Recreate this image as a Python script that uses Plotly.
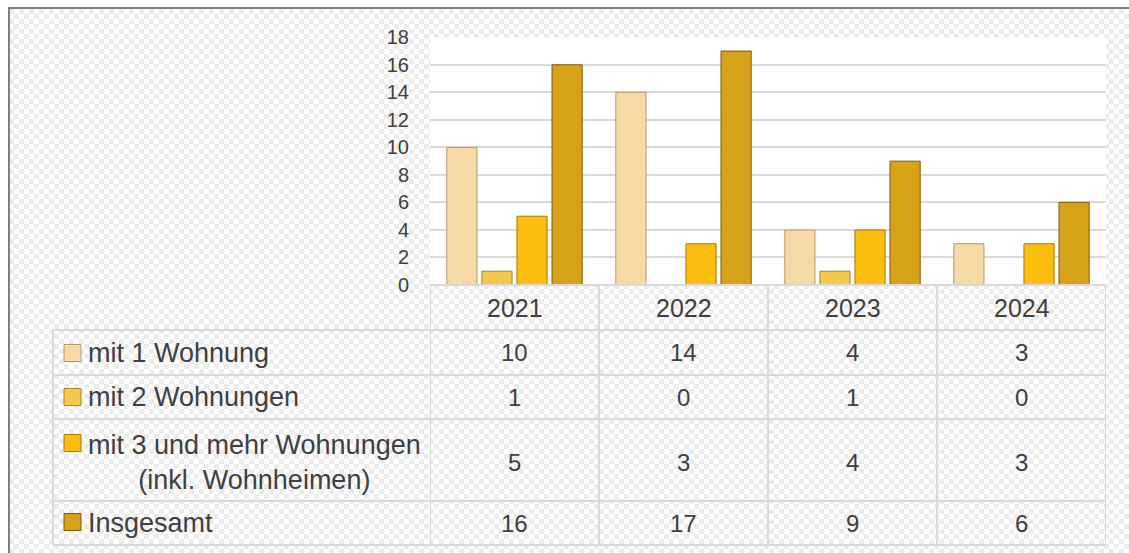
import base64
import plotly.graph_objects as go

# ---------------- data ----------------
years = ["2021", "2022", "2023", "2024"]
series_names = [
    "mit 1 Wohnung",
    "mit 2 Wohnungen",
    "mit 3 und mehr Wohnungen<br>(inkl. Wohnheimen)",
    "Insgesamt",
]
mit_1_wohnung = [10, 14, 4, 3]
mit_2_wohnungen = [1, 0, 1, 0]
mit_3_und_mehr = [5, 3, 4, 3]
insgesamt = [16, 17, 9, 6]
y_tick_values = [0, 2, 4, 6, 8, 10, 12, 14, 16, 18]

series_values = [mit_1_wohnung, mit_2_wohnungen, mit_3_und_mehr, insgesamt]

# ---------------- styling ----------------
W, H = 1129, 553
colors = ["#f7d9a6", "#f5c84c", "#fcbe0e", "#d7a118"]
outlines = ["#b99a66", "#a8852e", "#a27b0a", "#7d5c0a"]
text_color = "#404040"
line_color = "#d9d9d9"
font_family = "Liberation Sans, Arial, sans-serif"


def fx(px):
    return px / W


def fy(py):
    return 1 - py / H


plot_left, plot_right = 430, 1106
plot_top, plot_bottom = 37.3, 285
row_lines = [330, 375, 419, 501, 545]
header_center = 307.5
row_text_centers = [352.5, 397, 462, 523]
key_centers = [353, 397, 443, 522]
legend_left = 53

fig = go.Figure()
for name, vals, c, oc in zip(series_names, series_values, colors, outlines):
    fig.add_trace(
        go.Bar(
            x=years,
            y=vals,
            name=name,
            marker=dict(color=c, line=dict(color=oc, width=1)),
            showlegend=False,
            hoverinfo="x+y",
        )
    )

# checkered background
bw, bh = W - 9, H - 9
svg = (
    f'<svg xmlns="http://www.w3.org/2000/svg" width="{bw}" height="{bh}" '
    f'viewBox="0 0 {bw} {bh}">'
    '<defs><pattern id="p" width="10" height="10" patternUnits="userSpaceOnUse">'
    '<rect width="10" height="10" fill="#ffffff"/>'
    '<rect width="5" height="5" fill="#ebebeb"/>'
    '<rect x="5" y="5" width="5" height="5" fill="#ebebeb"/>'
    '</pattern></defs>'
    f'<rect width="{bw}" height="{bh}" fill="url(#p)"/></svg>'
)
src = "data:image/svg+xml;base64," + base64.b64encode(svg.encode()).decode()

shapes = []
# white plot area
shapes.append(dict(type="rect", xref="x domain", yref="y domain", x0=0, x1=1, y0=0, y1=1,
                   fillcolor="white", line=dict(width=0), layer="below"))
# outer border (top & left)
shapes.append(dict(type="line", xref="paper", yref="paper", x0=fx(8), x1=1, y0=fy(8), y1=fy(8),
                   line=dict(color="#808080", width=2)))
shapes.append(dict(type="line", xref="paper", yref="paper", x0=fx(9), x1=fx(9), y0=fy(8), y1=0,
                   line=dict(color="#808080", width=2)))
# table top line (header row)
shapes.append(dict(type="line", xref="x domain", yref="paper", x0=0, x1=1,
                   y0=fy(plot_bottom), y1=fy(plot_bottom), line=dict(color=line_color, width=2)))
# horizontal row lines
for r in row_lines:
    shapes.append(dict(type="line", xref="paper", yref="paper", x0=fx(legend_left), x1=fx(plot_right),
                       y0=fy(r), y1=fy(r), line=dict(color=line_color, width=2)))
# vertical column lines
for k in range(len(years) + 1):
    shapes.append(dict(type="line", xref="x", yref="paper", x0=k - 0.5, x1=k - 0.5,
                       y0=fy(row_lines[-1]), y1=fy(plot_bottom), line=dict(color=line_color, width=2)))
shapes.append(dict(type="line", xref="paper", yref="paper", x0=fx(legend_left), x1=fx(legend_left),
                   y0=fy(row_lines[-1]), y1=fy(row_lines[0]), line=dict(color=line_color, width=2)))
# legend keys
for kc, c, oc in zip(key_centers, colors, outlines):
    shapes.append(dict(type="rect", xref="paper", yref="paper", x0=fx(64), x1=fx(81),
                       y0=fy(kc + 8.5), y1=fy(kc - 8.5), fillcolor=c, line=dict(color=oc, width=1)))

annotations = []
for j, yr in enumerate(years):
    annotations.append(dict(x=j, xref="x", xanchor="center", y=fy(header_center), yref="paper",
                            yanchor="middle", text=yr, showarrow=False,
                            font=dict(size=25, color=text_color)))
for i, vals in enumerate(series_values):
    for j, v in enumerate(vals):
        annotations.append(dict(x=j, xref="x", xanchor="center", y=fy(row_text_centers[i]),
                                yref="paper", yanchor="middle", text=str(v), showarrow=False,
                                font=dict(size=24, color=text_color)))
    annotations.append(dict(x=fx(86), xref="paper", xanchor="left", y=fy(row_text_centers[i]),
                            yref="paper", yanchor="middle", text=series_names[i], align="center",
                            showarrow=False, font=dict(size=27, color=text_color)))

fig.update_layout(
    width=W,
    height=H,
    margin=dict(l=0, r=0, t=0, b=0, pad=0, autoexpand=False),
    paper_bgcolor="white",
    plot_bgcolor="rgba(0,0,0,0)",
    font=dict(family=font_family, color=text_color),
    barmode="group",
    bargap=0.17,
    bargroupgap=0.14,
    xaxis=dict(domain=[fx(plot_left), fx(plot_right)], type="category", range=[-0.5, 3.5],
               showticklabels=False, showgrid=False, zeroline=False, showline=False, ticks="",
               automargin=False),
    yaxis=dict(domain=[fy(plot_bottom), fy(plot_top)], range=[0, 18], tickvals=y_tick_values,
               showgrid=True, gridcolor=line_color, gridwidth=2, zeroline=False, showline=False,
               ticks="", ticklabelstandoff=20, tickfont=dict(size=20, color=text_color),
               automargin=False),
    images=[dict(source=src, xref="paper", yref="paper", x=fx(9), y=fy(9), sizex=1 - fx(9),
                 sizey=fy(9), xanchor="left", yanchor="top", sizing="stretch", layer="below")],
    shapes=shapes,
    annotations=annotations,
)

fig.write_html(
    "out.html",
    config={"displayModeBar": False},
    post_script="document.body.style.margin='0';document.body.style.overflow='hidden';",
)
